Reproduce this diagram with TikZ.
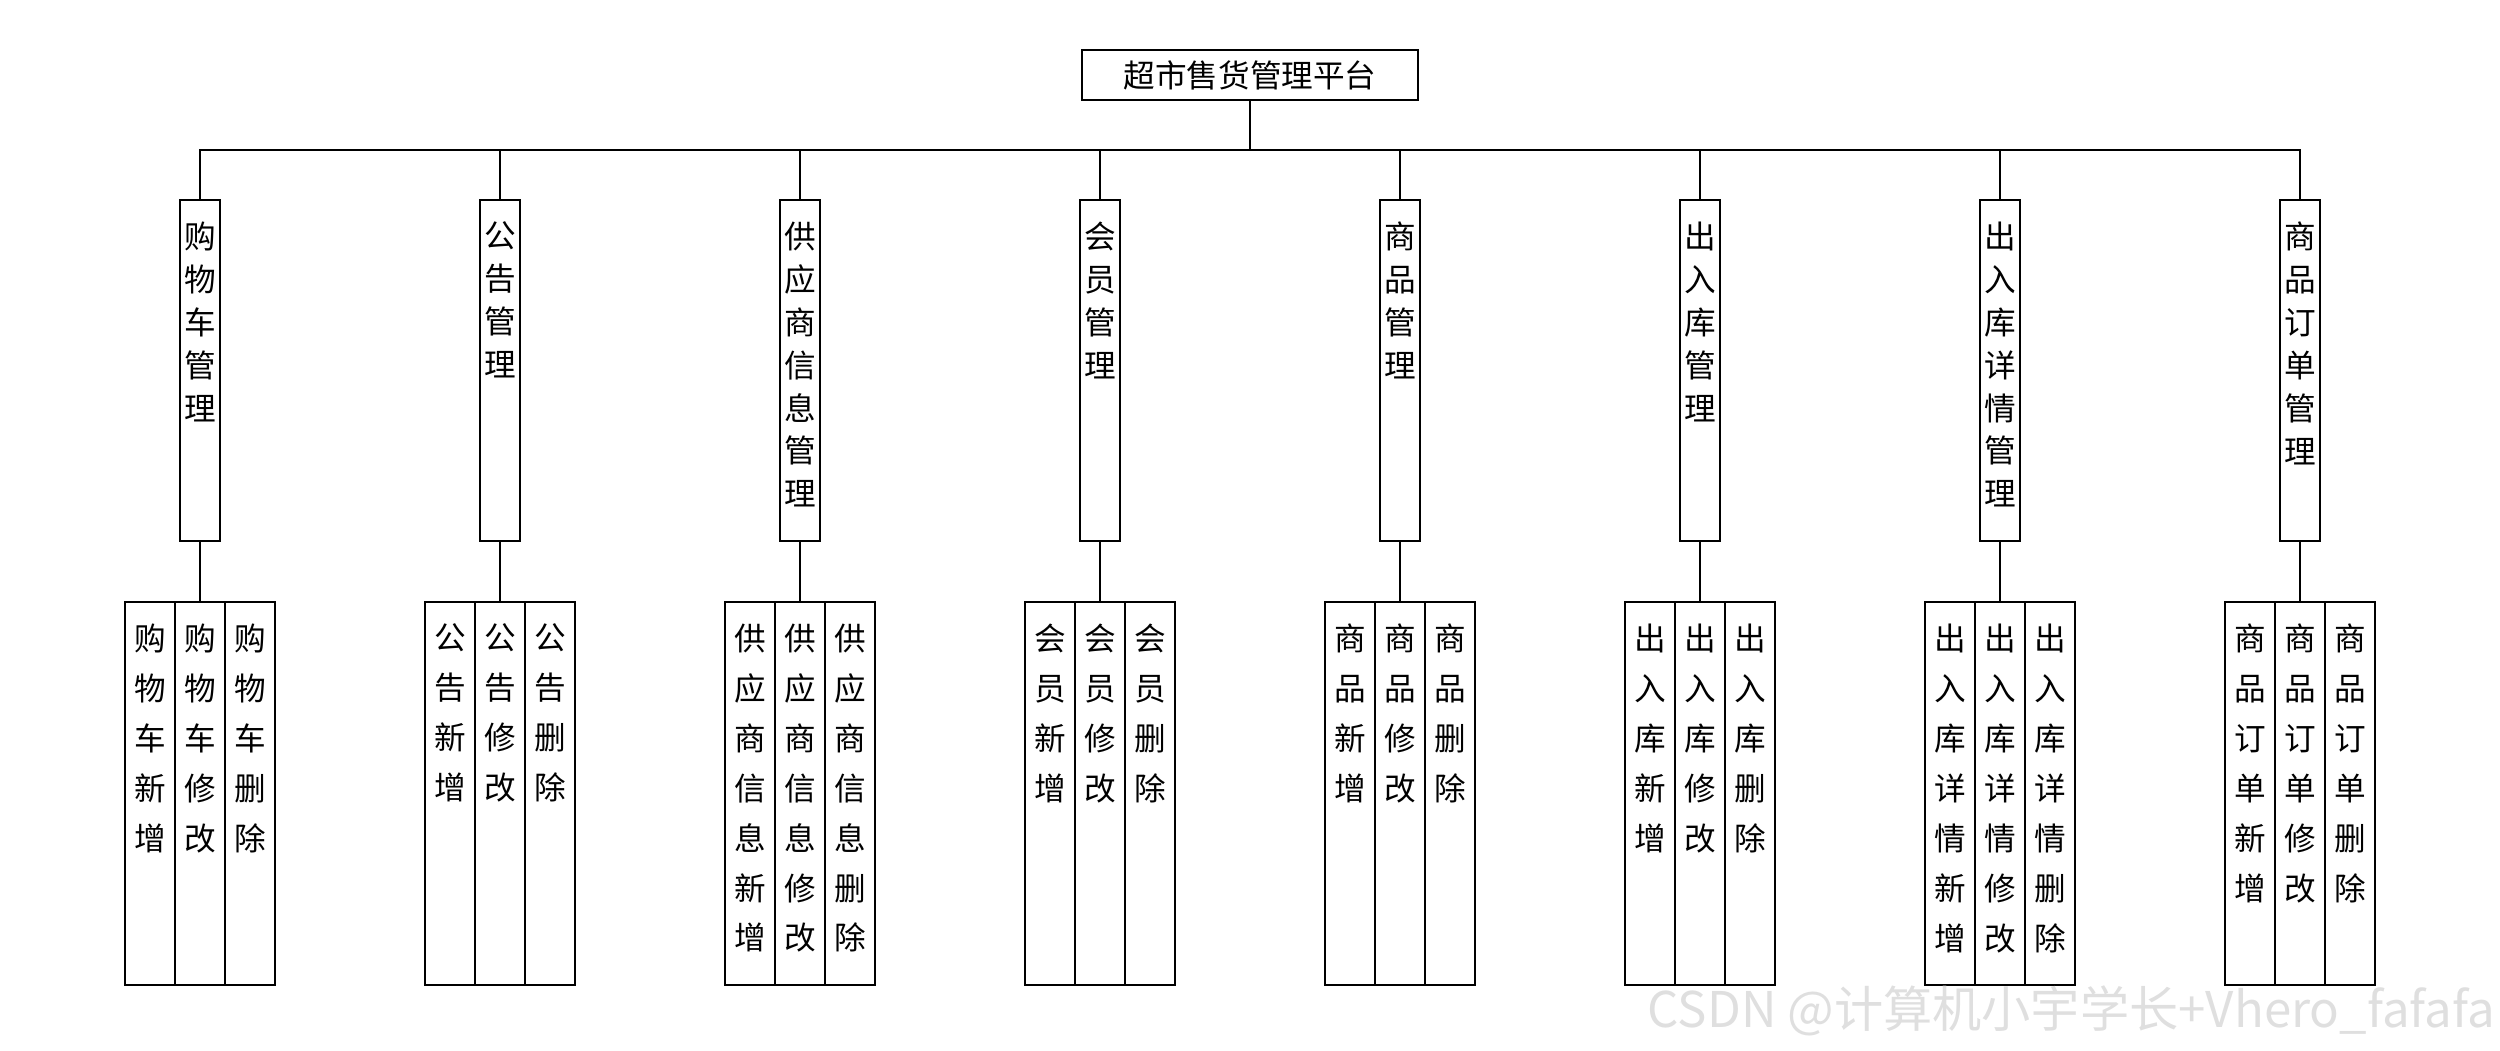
\documentclass[tikz,border=0pt]{standalone}
\usepackage{fontspec}
\setmainfont{Noto Sans CJK SC}
\usepackage{tikz}
\usetikzlibrary{positioning}
\tikzset{
root/.style={rectangle,draw,minimum width=3.36cm,minimum height=0.5cm,inner sep=0,
  font=\fontsize{9pt}{11pt}\selectfont},
vt/.style={anchor=north,align=center,inner sep=0},
mod/.style={rectangle,draw,minimum width=0.4cm,minimum height=3.41cm,inner sep=0,
  label={[vt,yshift=-0.22cm,font=\fontsize{9pt}{12.2pt}\selectfont]north:#1}},
sub/.style={rectangle,draw,minimum width=0.5cm,minimum height=3.83cm,inner sep=0,
  label={[vt,yshift=-0.22cm,font=\fontsize{9pt}{14.2pt}\selectfont]north:#1}},
wmk/.style={text=gray!25,inner sep=0,font=\fontsize{14pt}{14pt}\selectfont},
}

\begin{document}
\begin{tikzpicture}[line width=0.6pt,outer sep=0pt]
	\useasboundingbox (0,0) rectangle (25,-10.5);
	\node[root] (root) at (12.5,-0.75) {超市售货管理平台};
	\coordinate (bus) at (12.5,-1.5);

	\node[mod={购\\物\\车\\管\\理}] (m1) at (2,-3.705) {};
	\node[mod={公\\告\\管\\理}] (m2) at (5,-3.705) {};
	\node[mod={供\\应\\商\\信\\息\\管\\理}] (m3) at (8,-3.705) {};
	\node[mod={会\\员\\管\\理}] (m4) at (11,-3.705) {};
	\node[mod={商\\品\\管\\理}] (m5) at (14,-3.705) {};
	\node[mod={出\\入\\库\\管\\理}] (m6) at (17,-3.705) {};
	\node[mod={出\\入\\库\\详\\情\\管\\理}] (m7) at (20,-3.705) {};
	\node[mod={商\\品\\订\\单\\管\\理}] (m8) at (23,-3.705) {};

	\node[sub={购\\物\\车\\修\\改},below=0.61cm of m1] (s1b) {};
	\node[sub={购\\物\\车\\新\\增},left=0pt of s1b] (s1a) {};
	\node[sub={购\\物\\车\\删\\除},right=0pt of s1b] (s1c) {};

	\node[sub={公\\告\\修\\改},below=0.61cm of m2] (s2b) {};
	\node[sub={公\\告\\新\\增},left=0pt of s2b] (s2a) {};
	\node[sub={公\\告\\删\\除},right=0pt of s2b] (s2c) {};

	\node[sub={供\\应\\商\\信\\息\\修\\改},below=0.61cm of m3] (s3b) {};
	\node[sub={供\\应\\商\\信\\息\\新\\增},left=0pt of s3b] (s3a) {};
	\node[sub={供\\应\\商\\信\\息\\删\\除},right=0pt of s3b] (s3c) {};

	\node[sub={会\\员\\修\\改},below=0.61cm of m4] (s4b) {};
	\node[sub={会\\员\\新\\增},left=0pt of s4b] (s4a) {};
	\node[sub={会\\员\\删\\除},right=0pt of s4b] (s4c) {};

	\node[sub={商\\品\\修\\改},below=0.61cm of m5] (s5b) {};
	\node[sub={商\\品\\新\\增},left=0pt of s5b] (s5a) {};
	\node[sub={商\\品\\删\\除},right=0pt of s5b] (s5c) {};

	\node[sub={出\\入\\库\\修\\改},below=0.61cm of m6] (s6b) {};
	\node[sub={出\\入\\库\\新\\增},left=0pt of s6b] (s6a) {};
	\node[sub={出\\入\\库\\删\\除},right=0pt of s6b] (s6c) {};

	\node[sub={出\\入\\库\\详\\情\\修\\改},below=0.61cm of m7] (s7b) {};
	\node[sub={出\\入\\库\\详\\情\\新\\增},left=0pt of s7b] (s7a) {};
	\node[sub={出\\入\\库\\详\\情\\删\\除},right=0pt of s7b] (s7c) {};

	\node[sub={商\\品\\订\\单\\修\\改},below=0.61cm of m8] (s8b) {};
	\node[sub={商\\品\\订\\单\\新\\增},left=0pt of s8b] (s8a) {};
	\node[sub={商\\品\\订\\单\\删\\除},right=0pt of s8b] (s8c) {};

	\draw (root.south) -- (bus);
	\draw (bus) -| (m1.north);
	\draw (bus) -| (m2.north);
	\draw (bus) -| (m3.north);
	\draw (bus) -| (m4.north);
	\draw (bus) -| (m5.north);
	\draw (bus) -| (m6.north);
	\draw (bus) -| (m7.north);
	\draw (bus) -| (m8.north);

	\draw (m1.south) -- (s1b.north);
	\draw (m2.south) -- (s2b.north);
	\draw (m3.south) -- (s3b.north);
	\draw (m4.south) -- (s4b.north);
	\draw (m5.south) -- (s5b.north);
	\draw (m6.south) -- (s6b.north);
	\draw (m7.south) -- (s7b.north);
	\draw (m8.south) -- (s8b.north);

	\node[wmk,anchor=base east] (wm) at (24.95,-10.27) {CSDN @计算机小宇学长+Vhero\_fafafa};
\end{tikzpicture}
\end{document}
